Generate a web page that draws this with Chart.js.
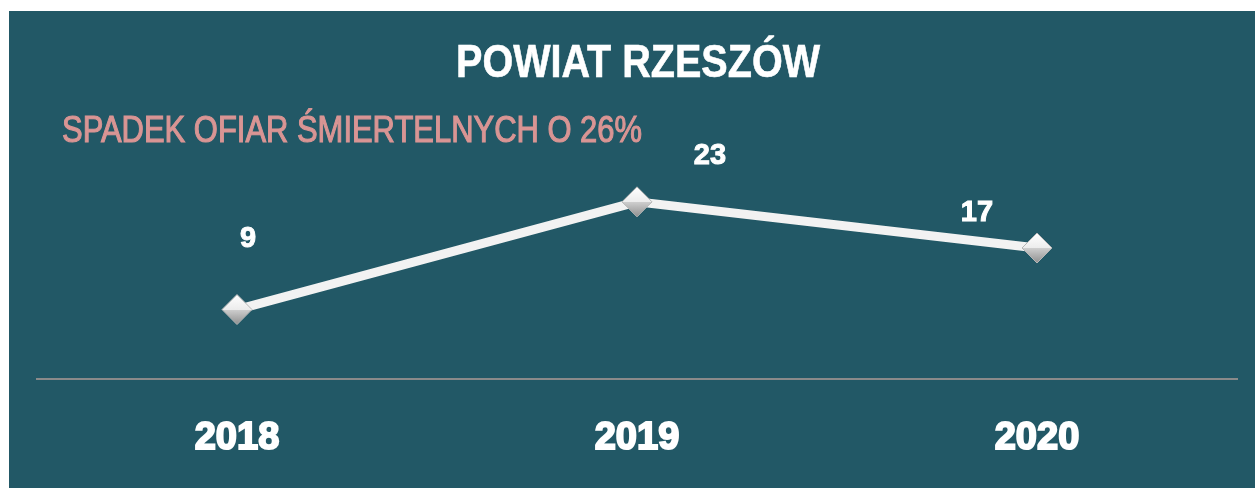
<!DOCTYPE html>
<html lang="pl">
<head>
<meta charset="utf-8">
<title>Powiat Rzeszów</title>
<script src="https://cdn.jsdelivr.net/npm/chart.js@4"></script>
<style>
  html, body { margin: 0; padding: 0; background: #ffffff; }
  #panel {
    position: absolute;
    left: 9px; top: 11px;
    width: 1246px; height: 477px;
    background: #225866;
  }
  #chart { display: block; }
</style>
</head>
<body>
<div id="panel"><canvas id="chart" width="1246" height="477"></canvas></div>
<script>
// dane
const years = ['2018', '2019', '2020'];
const deaths = [9, 23, 17];
const chartTitle = 'POWIAT RZESZÓW';
const chartSubtitle = 'SPADEK OFIAR ŚMIERTELNYCH O 26%';

// przesunięcia etykiet wartości (jak w oryginale, ręcznie ustawione)
const labelOffsets = [[11, -71], [73, -46], [-60, -35]];

// napis ściśnięty do zadanej szerokości (czcionka typu "narrow")
function drawNarrow(ctx, text, x, y, width, align, stroke) {
    const w = ctx.measureText(text).width;
    const sx = Math.min(1, width / w);
    ctx.save();
    ctx.translate(x, y);
    ctx.scale(sx, 1);
    ctx.textAlign = align;
    ctx.fillText(text, 0, 0);
    if (stroke) {
        ctx.strokeStyle = ctx.fillStyle;
        ctx.lineWidth = stroke;
        ctx.strokeText(text, 0, 0);
    }
    ctx.restore();
}

const headerPlugin = {
    id: 'header',
    afterDraw(chart) {
        const ctx = chart.ctx;
        ctx.save();
        ctx.textBaseline = 'alphabetic';
        ctx.fillStyle = '#ffffff';
        ctx.font = 'bold 47px "Liberation Sans Narrow", "Arial Narrow", "Liberation Sans", Arial, sans-serif';
        drawNarrow(ctx, chartTitle, 629, 66, 364, 'center', 0.6);
        ctx.fillStyle = '#d99594';
        ctx.font = '36px "Liberation Sans Narrow", "Arial Narrow", "Liberation Sans", Arial, sans-serif';
        drawNarrow(ctx, chartSubtitle, 53, 131, 580, 'left', 1.1);
        ctx.restore();
    }
};

const valueLabels = {
    id: 'valueLabels',
    afterDatasetsDraw(chart) {
        const ctx = chart.ctx;
        const meta = chart.getDatasetMeta(0);
        ctx.save();
        ctx.font = 'bold 29px "Liberation Sans", Arial, sans-serif';
        ctx.fillStyle = '#ffffff';
        ctx.strokeStyle = '#ffffff';
        ctx.lineWidth = 1;
        ctx.textAlign = 'center';
        ctx.textBaseline = 'middle';
        meta.data.forEach((pt, i) => {
            const [dx, dy] = labelOffsets[i];
            ctx.fillText(String(deaths[i]), pt.x + dx, pt.y + dy);
            ctx.strokeText(String(deaths[i]), pt.x + dx, pt.y + dy);
        });
        ctx.restore();
    }
};

function markerFill(context) {
    const chart = context.chart;
    const scale = chart.scales.y;
    const y = scale ? scale.getPixelForValue(context.raw) : NaN;
    if (!Number.isFinite(y)) return '#e0e0e0';
    const g = chart.ctx.createLinearGradient(0, y - 15, 0, y + 15);
    g.addColorStop(0, '#ffffff');
    g.addColorStop(0.5, '#ececec');
    g.addColorStop(0.5, '#cfcfcf');
    g.addColorStop(1, '#8f8f8f');
    return g;
}

new Chart(document.getElementById('chart'), {
    type: 'line',
    data: {
        labels: years,
        datasets: [{
            data: deaths,
            borderColor: '#f2f2f2',
            borderWidth: 9,
            tension: 0,
            pointStyle: 'rectRot',
            pointRadius: 15,
            pointHoverRadius: 15,
            pointBackgroundColor: markerFill,
            pointBorderColor: '#b5b5b5',
            pointBorderWidth: 1
        }]
    },
    options: {
        responsive: false,
        animation: false,
        layout: { padding: { left: 28, right: 18, top: 137, bottom: -11 } },
        plugins: {
            legend: { display: false },
            tooltip: { enabled: false }
        },
        scales: {
            x: {
                offset: true,
                grid: { display: false, drawTicks: false },
                border: { display: true, color: '#8a8a8a', width: 2 },
                ticks: {
                    color: '#ffffff',
                    padding: 43,
                    textStrokeColor: '#ffffff',
                    textStrokeWidth: 2,
                    font: { family: '"Liberation Sans", Arial, sans-serif', size: 38, weight: 'bold', lineHeight: 0.9 }
                }
            },
            y: {
                display: false,
                min: 0,
                max: 30
            }
        }
    },
    plugins: [headerPlugin, valueLabels]
});
</script>
</body>
</html>
